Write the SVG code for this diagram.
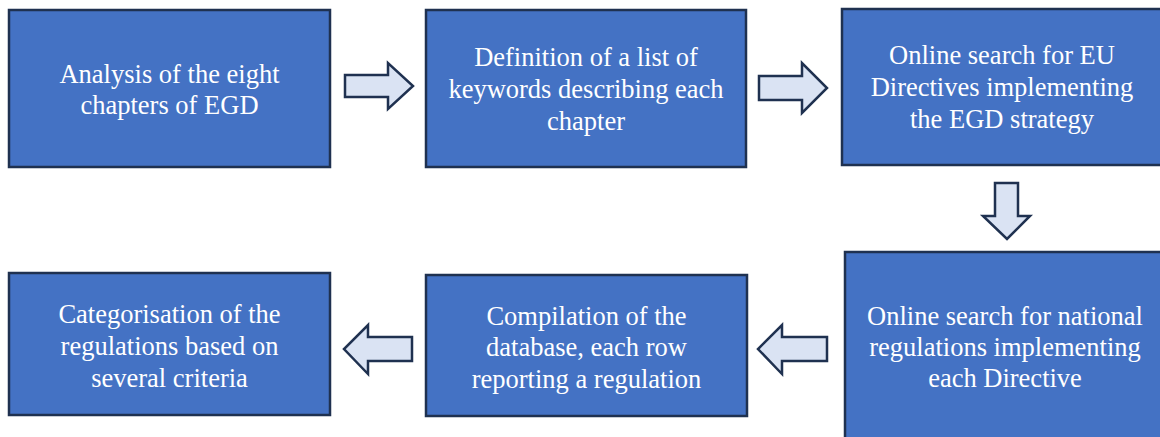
<svg xmlns="http://www.w3.org/2000/svg" width="1160" height="437" viewBox="0 0 1160 437">
<style>
.box{fill:#4472C4;stroke:#1F3150;stroke-width:2.5}
.arr{fill:#DAE3F3;stroke:#1F3150;stroke-width:2.5;stroke-linejoin:miter}
.t{font-family:"Liberation Serif","Times New Roman",serif;font-size:26.5px;fill:#FFFFFF;text-anchor:middle}
</style>
<rect width="1160" height="437" fill="#FFFFFF"/>
<g id="n1"><rect class="box" x="9" y="10" width="321" height="157"/>
<text class="t" x="169.5" y="83">Analysis of the eight</text>
<text class="t" x="169.5" y="114">chapters of EGD</text></g>
<g id="n2"><rect class="box" x="426" y="10" width="320" height="157"/>
<text class="t" x="586" y="66">Definition of a list of</text>
<text class="t" x="586" y="98">keywords describing each</text>
<text class="t" x="586" y="130">chapter</text></g>
<g id="n3"><rect class="box" x="842" y="9" width="320" height="156"/>
<text class="t" x="1002" y="64">Online search for EU</text>
<text class="t" x="1002" y="96">Directives implementing</text>
<text class="t" x="1002" y="128">the EGD strategy</text></g>
<g id="n4"><rect class="box" x="845" y="252" width="320" height="190"/>
<text class="t" x="1005" y="325">Online search for national</text>
<text class="t" x="1005" y="356">regulations implementing</text>
<text class="t" x="1005" y="387">each Directive</text></g>
<g id="n5"><rect class="box" x="426" y="275" width="321" height="141"/>
<text class="t" x="586.5" y="325">Compilation of the</text>
<text class="t" x="586.5" y="356">database, each row</text>
<text class="t" x="586.5" y="388">reporting a regulation</text></g>
<g id="n6"><rect class="box" x="9" y="273" width="321" height="142"/>
<text class="t" x="169.5" y="323">Categorisation of the</text>
<text class="t" x="169.5" y="355">regulations based on</text>
<text class="t" x="169.5" y="387">several criteria</text></g>
<g id="connectors">
<path class="arr" d="M345,75 H388 V63 L413,86 L388,109 V97 H345 Z"/>
<path class="arr" d="M759,76 H802 V63 L827,88 L802,113 V100 H759 Z"/>
<path class="arr" d="M995,183 H1018 V216 H1030 L1007,239 L983,216 H995 Z"/>
<path class="arr" d="M827,337 H782 V325 L758,349 L782,374 V361 H827 Z"/>
<path class="arr" d="M412,337 H368 V325 L344,349 L368,374 V361 H412 Z"/>
</g>
</svg>
